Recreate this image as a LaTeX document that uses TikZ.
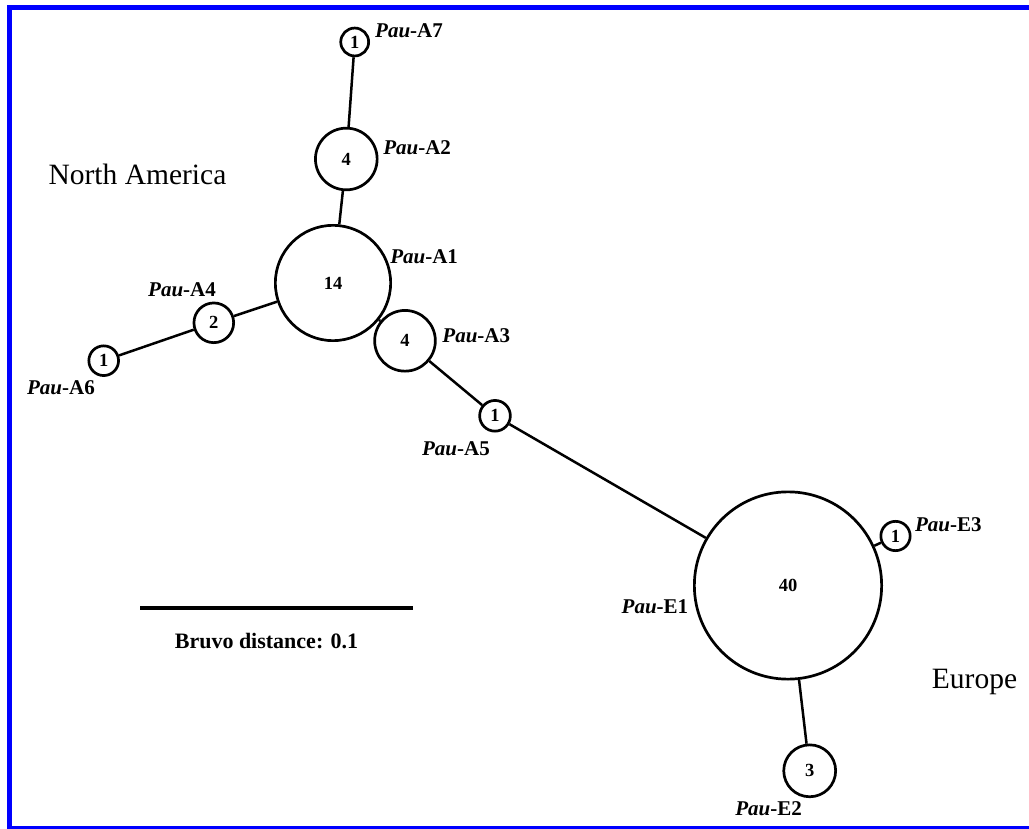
\documentclass[tikz,border=0pt]{standalone}
\usepackage{fontspec}
\setmainfont{Liberation Serif}
\usetikzlibrary{positioning}
\definecolor{frameblue}{rgb}{0,0,1}

\begin{document}
\begin{tikzpicture}[x=1pt,y=-1pt,every node/.style={inner sep=0pt},
    hap/.style={draw,circle,line width=2.7pt,font=\bfseries\fontsize{18.5}{18.5}\selectfont},
    lab/.style={font=\bfseries\fontsize{21}{21}\selectfont},
    region/.style={font=\fontsize{29.5}{30}\selectfont},
    link/.style={line width=2.5pt}]
    \useasboundingbox (0,0) rectangle (1029,829);
    \draw [frameblue, line width=5pt] (9.5,7.5) rectangle (1040,828.5);

    % North America
    \node [hap, minimum size=27.9pt] (a7) at (354.7,42) {1};
    \node [hap, minimum size=61.7pt] (a2) at (346.3,159) {4};
    \node [hap, minimum size=115.3pt] (a1) at (333,283) {14};
    \node [hap, minimum size=39.7pt] (a4) at (213.8,322.8) {2};
    \node [hap, minimum size=29.7pt] (a6) at (103.7,360.7) {1};
    \node [hap, minimum size=60.7pt] (a3) at (405,340.8) {4};
    \node [hap, minimum size=30.7pt] (a5) at (495,415.8) {1};
    % Europe
    \node [hap, minimum size=187.3pt] (e1) at (788,585.5) {40};
    \node [hap, minimum size=29.3pt] (e3) at (895.5,536) {1};
    \node [hap, minimum size=51.9pt] (e2) at (809.7,770.8) {3};

    \draw [link] (a7) -- (a2) (a2) -- (a1) (a1) -- (a4) (a4) -- (a6) (a1) -- (a3) (a3) -- (a5)
        (a5) -- (e1) (e1) -- (e3) (e1) -- (e2);

    \node [lab, right=9.5pt of a7.45] (la7) {\textit{Pau}-A7};
    \node [lab, right=6.5pt of a2.20] (la2) {\textit{Pau}-A2};
    \node [lab, right=4.5pt of a1.27] (la1) {\textit{Pau}-A1};
    \node [lab, above left=6pt and 5pt of a4.70] (la4) {\textit{Pau}-A4};
    \node [lab, below left=3pt and 8.7pt of a6.south] (la6) {\textit{Pau}-A6};
    \node [lab, right=6pt of a3.10] (la3) {\textit{Pau}-A3};
    \node [lab, below left=8.5pt and 5pt of a5.south] (la5) {\textit{Pau}-A5};
    \node [lab, left=7pt of e1.193] (le1) {\textit{Pau}-E1};
    \node [lab, right=8pt of e3.45] (le3) {\textit{Pau}-E3};
    \node [lab, below left=3.4pt and 7.7pt of e2.south] (le2) {\textit{Pau}-E2};

    \node [region] (namerica) at (137.5,174) {North America};
    \node [region] (europe) at (974.5,682) {Europe};

    % scale bar
    \coordinate (barw) at (140,608);
    \coordinate (bare) at (413,608);
    \draw [line width=3.5pt] (barw) -- (bare);
    \node [font=\bfseries\fontsize{22}{22}\selectfont] (bruvo) at (266.5,641) {Bruvo distance: 0.1};
\end{tikzpicture}
\end{document}
